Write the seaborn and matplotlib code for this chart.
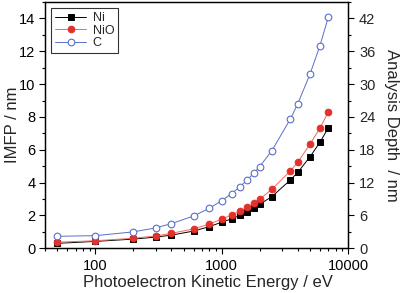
import numpy as np
import pandas as pd
import matplotlib
matplotlib.use('Agg')
import matplotlib.pyplot as plt
import matplotlib.ticker as mticker
import seaborn as sns

# energias cineticas (eV)
energy = [50, 100, 200, 300, 400, 600, 800, 1000, 1200, 1400, 1600, 1800,
          2000, 2500, 3500, 4000, 5000, 6000, 7000]
# IMFP (nm)
imfp_ni = [0.30, 0.42, 0.56, 0.68, 0.80, 1.05, 1.32, 1.59, 1.79, 2.01, 2.23,
           2.44, 2.68, 3.15, 4.16, 4.62, 5.57, 6.46, 7.35]
imfp_nio = [0.37, 0.46, 0.61, 0.75, 0.91, 1.18, 1.48, 1.77, 2.03, 2.26, 2.50,
            2.74, 2.99, 3.60, 4.71, 5.24, 6.34, 7.32, 8.33]
imfp_c = [0.73, 0.77, 1.00, 1.24, 1.50, 1.97, 2.44, 2.90, 3.33, 3.76, 4.18,
          4.58, 4.98, 5.95, 7.88, 8.80, 10.60, 12.35, 14.10]

left_ticks = [0, 2, 4, 6, 8, 10, 12, 14]
right_ticks = [0, 6, 12, 18, 24, 30, 36, 42]
x_ticks = [100, 1000, 10000]

sns.set_style('ticks')
plt.rcParams['font.family'] = ['Liberation Sans', 'DejaVu Sans']

fig = plt.figure(figsize=(4.0, 2.93), dpi=100)
ax = fig.add_axes([0.1125, 0.1526, 0.7575, 0.8404])

sns.lineplot(x=energy, y=imfp_ni, ax=ax, color='black', lw=0.7, marker='s',
             markersize=4.2, markerfacecolor='black', markeredgecolor='black',
             markeredgewidth=0.7, label='Ni')
sns.lineplot(x=energy, y=imfp_nio, ax=ax, color='#ef6a5e', lw=0.7, marker='o',
             markersize=4.8, markerfacecolor='#e4312a', markeredgecolor='#e4312a',
             markeredgewidth=0.7, label='NiO')
sns.lineplot(x=energy, y=imfp_c, ax=ax, color='#5a6fc8', lw=0.7, marker='o',
             markersize=4.8, markerfacecolor='white', markeredgecolor='#5a6fc8',
             markeredgewidth=0.8, label='C')

ax.set_xscale('log')
ax.set_xlim(40, 10000)
ax.set_ylim(0, 15)
ax.set_xticks(x_ticks)
ax.xaxis.set_major_formatter(mticker.FuncFormatter(lambda v, p: '%d' % v))
ax.set_yticks(left_ticks)
ax.yaxis.set_minor_locator(mticker.MultipleLocator(1))
ax.tick_params(axis='both', which='major', direction='out', length=4.5,
               width=0.8, labelsize=10.5, color='black', labelcolor='black')
ax.tick_params(axis='both', which='minor', direction='out', length=2.5,
               width=0.8, color='black')
ax.tick_params(axis='y', which='major', pad=2.5)
ax.tick_params(axis='x', which='both', top=False)

ax.set_xlabel('Photoelectron Kinetic Energy / eV', fontsize=12, va='center')
ax.xaxis.set_label_coords(0.538, -0.137)
ax.set_ylabel('IMFP / nm', fontsize=12, va='center')
ax.yaxis.set_label_coords(-0.106, 0.5)

ax2 = ax.twinx()
ax2.set_ylim(0, 45)
ax2.set_yticks(right_ticks)
ax2.yaxis.set_minor_locator(mticker.MultipleLocator(3))
ax2.tick_params(axis='y', which='major', direction='out', length=4.5,
                width=0.8, labelsize=10.5, color='black')
ax2.tick_params(axis='y', which='minor', direction='out', length=2.5,
                width=0.8, color='black')
ax2.tick_params(axis='x', which='major', top=True, bottom=False, direction='in',
                length=4.5, width=0.8, labeltop=False, labelbottom=False)
ax2.tick_params(axis='x', which='minor', top=True, bottom=False, direction='in',
                length=2.5, width=0.8)
ax2.set_ylabel('Analysis Depth  / nm', fontsize=12, rotation=270, va='center')
ax2.yaxis.set_label_coords(1.142, 0.5)

for a in (ax, ax2):
    for s in a.spines.values():
        s.set_visible(True)
        s.set_linewidth(0.9)
        s.set_color('black')

leg = ax.legend(loc='upper left', fontsize=9, frameon=True, fancybox=False,
                edgecolor='black', borderaxespad=0.5, handlelength=2.5,
                handletextpad=0.5, borderpad=0.3, labelspacing=0.05)
leg.get_frame().set_linewidth(0.8)

fig.savefig('out.png', dpi=100)
